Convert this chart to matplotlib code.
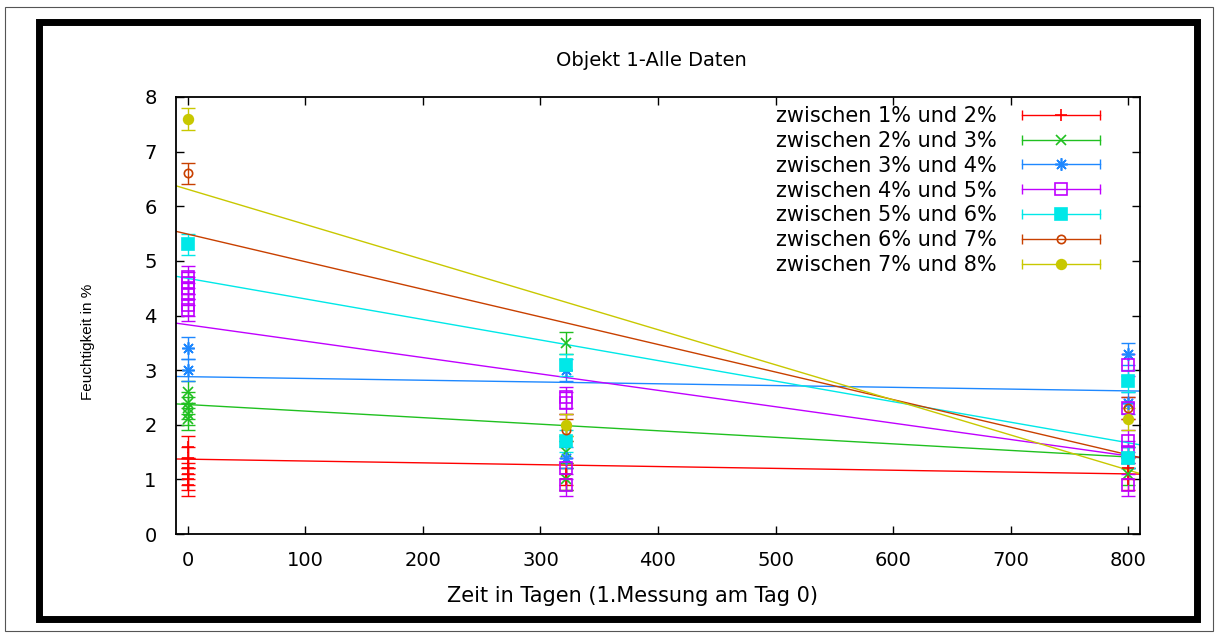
import matplotlib
matplotlib.use("Agg")
import matplotlib.pyplot as plt
from matplotlib.lines import Line2D
from matplotlib.patches import Rectangle
from matplotlib.legend_handler import HandlerBase
import numpy as np

# Beschriftungen
labels = ["zwischen 1% und 2%", "zwischen 2% und 3%", "zwischen 3% und 4%",
          "zwischen 4% und 5%", "zwischen 5% und 6%", "zwischen 6% und 7%",
          "zwischen 7% und 8%"]
colors = ["#ff0000", "#20c020", "#1e88ff", "#c000ff", "#00e8e8", "#c84000", "#c8c800"]

# Messwerte (Tag, Feuchte)
x_12 = [0, 0, 0, 0, 0, 0, 322, 322, 800, 800]
y_12 = [1.6, 1.4, 1.2, 1.1, 1.0, 0.9, 1.1, 1.0, 1.2, 1.0]
x_23 = [0, 0, 0, 0, 0, 322, 322, 322, 800, 800]
y_23 = [2.6, 2.4, 2.3, 2.2, 2.1, 3.5, 1.5, 1.0, 1.4, 1.1]
x_34 = [0, 0, 322, 322, 800, 800, 800]
y_34 = [3.4, 3.0, 3.0, 1.4, 3.3, 2.4, 1.4]
x_45 = [0, 0, 0, 0, 0, 0, 322, 322, 322, 322, 800, 800, 800, 800, 800]
y_45 = [4.7, 4.6, 4.5, 4.4, 4.2, 4.1, 2.5, 2.4, 1.2, 0.9, 3.1, 2.3, 1.7, 1.5, 0.9]
x_56 = [0, 322, 322, 800, 800]
y_56 = [5.3, 3.1, 1.7, 2.8, 1.4]
x_67 = [0, 322, 322, 800]
y_67 = [6.6, 2.0, 1.9, 2.3]
x_78 = [0, 322, 800]
y_78 = [7.6, 2.0, 2.1]
fehler = [0.2, 0.2, 0.2, 0.2, 0.2, 0.2, 0.2]

# Ausgleichsgeraden: Wert bei Tag 0 und Tag 800
fit_tag0 = [1.37, 2.37, 2.88, 3.83, 4.68, 5.49, 6.31]
fit_tag800 = [1.10, 1.41, 2.62, 1.43, 1.67, 1.45, 1.17]

xs = [x_12, x_23, x_34, x_45, x_56, x_67, x_78]
ys = [y_12, y_23, y_34, y_45, y_56, y_67, y_78]

# Marker wie gnuplot
markers = ["+", "x", (8, 2, 0), "s", "s", "o", "o"]
msizes = [9, 7, 9, 8, 8, 6, 7]
filled = [True, True, True, False, True, False, True]

plt.rcParams['font.family'] = ['DejaVu Sans']

fig = plt.figure(figsize=(12.18, 6.35), dpi=100)
ax = fig.add_axes([176/1218, 1-534/635, 964/1218, 437/635])

xmin, xmax = -10, 810
handles = []
for i in range(7):
    c = colors[i]
    fc = c if filled[i] else "none"
    ax.errorbar(xs[i], ys[i], yerr=fehler[i], fmt="none", ecolor=c,
                elinewidth=1, capsize=5, capthick=1, zorder=2)
    ax.plot(xs[i], ys[i], ls="none", marker=markers[i], ms=msizes[i],
            mec=c, mfc=fc, mew=1.2, zorder=3)
    # Gerade
    steigung = (fit_tag800[i] - fit_tag0[i]) / 800
    gx = np.array([xmin, xmax])
    ax.plot(gx, fit_tag0[i] + steigung * gx, color=c, lw=1, zorder=2)
    handles.append(Line2D([], [], color=c, marker=markers[i], ms=msizes[i],
                          mec=c, mfc=fc, mew=1.2))


# Legende im gnuplot-Stil
class GnuHandler(HandlerBase):
    def create_artists(self, legend, orig, xdescent, ydescent, width, height, fontsize, trans):
        y = height / 2 - ydescent
        x0, x1 = -xdescent, width - xdescent
        c = orig.get_color()
        line = Line2D([x0, x1], [y, y], color=c, lw=1, transform=trans)
        caps = Line2D([x0, x1], [y, y], ls="none", marker="|", ms=7, mew=1,
                      color=c, transform=trans)
        mk = Line2D([(x0 + x1) / 2], [y], ls="none", marker=orig.get_marker(),
                    ms=orig.get_markersize(), mec=c, mfc=orig.get_markerfacecolor(),
                    mew=1.2, transform=trans)
        return [line, caps, mk]


ax.legend(handles, labels, handler_map={Line2D: GnuHandler()}, loc="upper right",
          bbox_to_anchor=(0.9585, 0.979), frameon=False, markerfirst=False,
          fontsize=15, handlelength=3.75, handletextpad=1.2, labelspacing=0.23,
          borderpad=0, borderaxespad=0)

ax.set_xlim(xmin, xmax)
ax.set_ylim(0, 8)
ax.set_xticks(range(0, 801, 100))
ax.set_yticks(range(0, 9))
ax.tick_params(direction="in", length=6, width=1, top=True, right=True,
               labelsize=14, colors="black")
ax.tick_params(axis="y", pad=14)
ax.tick_params(axis="x", pad=12)
for s in ax.spines.values():
    s.set_linewidth(1.3)

fig.text(0.535, 1-60/635, "Objekt 1-Alle Daten", ha="center", va="center", fontsize=14)
fig.text(0.519, 1-596/635, "Zeit in Tagen (1.Messung am Tag 0)", ha="center",
         va="center", fontsize=15)
fig.text(88/1218, 1-342/635, "Feuchtigkeit in %", ha="center", va="center",
         rotation=90, fontsize=11, family=["Liberation Sans"])

# Rahmen
fig.patches.append(Rectangle((38.5/1218, 1-618.5/635), 1158/1218, 597/635,
                             transform=fig.transFigure, fill=False, lw=5,
                             edgecolor="black"))
fig.patches.append(Rectangle((5/1218, 1-631/635), 1208/1218, 624/635,
                             transform=fig.transFigure, fill=False, lw=0.8,
                             edgecolor="#555555"))

fig.savefig("out.png", dpi=100)
